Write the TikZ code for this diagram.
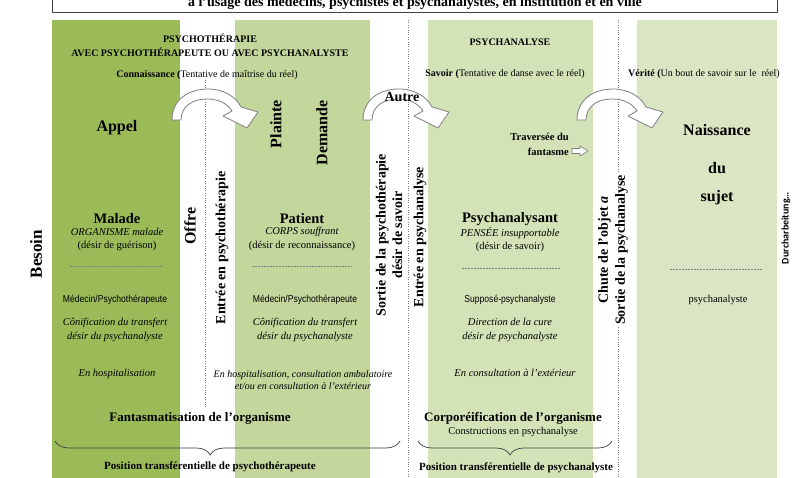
\documentclass[tikz,border=0pt]{standalone}
\usepackage{fontspec}
\setmainfont{Liberation Serif}
\setsansfont{Liberation Sans}
\newfontfamily\narrowfont[FakeStretch=0.86]{Liberation Sans}
\newfontfamily\calibfont{Carlito}
\usetikzlibrary{decorations.pathreplacing}

\definecolor{olivedark}{HTML}{9BBB59}
\definecolor{olivemid}{HTML}{C3D69B}
\definecolor{olivelight}{HTML}{D4E2B7}
\definecolor{olivepale}{HTML}{DAE5C3}
\definecolor{linegray}{HTML}{7F7F7F}

\tikzset{
  curvearrow/.pic={
    \draw[blockarrow] (0,0) .. controls (0,-20) and (16,-31) .. (36,-31)
      .. controls (52,-31) and (64,-23) .. (69,-13) -- (86,-8) -- (75,8) -- (51,-4) -- (60,-9)
      .. controls (55,-17) and (46,-21) .. (35,-21)
      .. controls (21,-21) and (9,-14) .. (9,0) -- cycle;
  }
}

\begin{document}
\begin{tikzpicture}[
    x=1pt, y=-1pt,
    every node/.style={inner sep=0pt},
    bigword/.style={font=\fontsize{16}{18}\selectfont\bfseries},
    rolename/.style={font=\fontsize{14.5}{16}\selectfont\bfseries},
    plain/.style={font=\fontsize{10.5}{13}\selectfont},
    desc/.style={font=\fontsize{10.5}{13.5}\selectfont\itshape, align=center},
    staff/.style={font=\fontsize{10}{12}\narrowfont},
    heading/.style={font=\fontsize{10}{14}\selectfont\bfseries, align=center},
    register/.style={font=\fontsize{10}{12}\selectfont},
    vtext/.style={rotate=90, font=\fontsize{14}{16.5}\selectfont\bfseries, align=center},
    summary/.style={font=\fontsize{13}{15}\selectfont\bfseries},
    position/.style={font=\fontsize{11}{12}\selectfont\bfseries},
    sepline/.style={linegray, dash pattern=on 2pt off 1pt, line width=0.5pt},
    guide/.style={linegray, dash pattern=on 0.8pt off 1.6pt, line width=0.6pt},
    blockarrow/.style={draw=linegray, fill=white, line width=0.8pt, line join=round},
    bracebelow/.style={decorate, decoration={brace, mirror, amplitude=14pt, aspect=#1}, draw=black!75, line width=0.7pt}
  ]
    \useasboundingbox (0,0) rectangle (800,478);
    \clip (0,0) rectangle (800,478);
    \fill[white] (0,0) rectangle (800,478);

    \fill[olivedark] (52,20) rectangle (180,478);
    \fill[olivemid] (235,20) rectangle (370,478);
    \fill[olivelight] (428,20) rectangle (593,478);
    \fill[olivepale] (637,20) rectangle (777,478);

    \draw[black!75, line width=1pt] (52,-10) rectangle (777,13);
    \node[font=\fontsize{14}{16}\selectfont\bfseries] (title) at (415,3) {à l’usage des médecins, psychistes et psychanalystes, en institution et en ville};

    \draw[guide] (205,80) -- (205,408);
    \draw[guide] (408,20) -- (408,478);
    \draw[guide] (618,20) -- (618,478);

    \node[heading] (psytherapie) at (210,45) {PSYCHOTHÉRAPIE\\AVEC PSYCHOTHÉRAPEUTE OU AVEC PSYCHANALYSTE};
    \node[heading] (psychanalyse) at (510,42) {PSYCHANALYSE};
    \node[register] (connaissance) at (207,75) {\textbf{Connaissance (}Tentative de maîtrise du réel)};
    \node[register] (savoir) at (505,74) {\textbf{Savoir (}Tentative de danse avec le réel)};
    \node[register] (verite) at (704,74) {\textbf{Vérité (}Un bout de savoir sur le\ \ réel)};

    \pic at (172,120) {curvearrow};
    \pic at (363,120) {curvearrow};
    \pic at (577,120) {curvearrow};
    \node[font=\fontsize{14}{16}\selectfont\bfseries] (autre) at (402,97) {Autre};

    \node[bigword] (appel) at (117,128) {Appel};
    \node[bigword, rotate=90, anchor=east] (plainte) at (276,100) {Plainte};
    \node[bigword, rotate=90, anchor=east] (demande) at (322,100) {Demande};
    \node[bigword] (naissance) at (717,130) {Naissance};
    \node[bigword] (du) at (717,168) {du};
    \node[bigword] (sujet) at (717,198) {sujet};

    \node[font=\fontsize{10.5}{15}\selectfont\bfseries, align=right, anchor=east] (traversee) at (569,144) {Traversée du\\fantasme};
    \draw[blockarrow, line width=0.6pt] (572,148.5) -- (580,148.5) -- (580,146) -- (588,151) -- (580,156) -- (580,153.5) -- (572,153.5) -- cycle;

    \node[rotate=90, font=\fontsize{17}{19}\selectfont\bfseries] (besoin) at (36,254) {Besoin};
    \node[bigword, rotate=90] (offre) at (190,226) {Offre};
    \node[vtext] (entreepth) at (222,248) {Entrée en psychothérapie};
    \node[vtext] (sortiepth) at (389,235) {Sortie de la psychothérapie\\désir de savoir};
    \node[vtext] (entreepsy) at (420,237) {Entrée en psychanalyse};
    \node[vtext, fill=white, inner xsep=1pt, inner ysep=4pt, font=\fontsize{14}{17}\selectfont\bfseries] (chute) at (613,250) {Chute de l’objet \textit{a}\\Sortie de la psychanalyse};
    \node[rotate=90, font=\fontsize{10}{12}\calibfont\bfseries] (durch) at (786,228) {Durcharbeitung…};

    \node[rolename] (malade) at (117,219) {Malade};
    \node[desc] (organisme) at (117,232) {ORGANISME malade};
    \node[plain] (guerison) at (117,246) {(désir de guérison)};
    \draw[sepline] (70,266) -- (163,266);
    \node[staff] (medecinA) at (115,300) {Médecin/Psychothérapeute};
    \node[desc] (conifA) at (115,330) {Cônification du transfert\\désir du psychanalyste};
    \node[desc] (hospA) at (117,374) {En hospitalisation};

    \node[rolename] (patient) at (302,219) {Patient};
    \node[desc] (corps) at (302,232) {CORPS souffrant};
    \node[plain] (reconnaissance) at (302,246) {(désir de reconnaissance)};
    \draw[sepline] (252,266) -- (352,266);
    \node[staff] (medecinB) at (305,300) {Médecin/Psychothérapeute};
    \node[desc] (conifB) at (305,330) {Cônification du transfert\\désir du psychanalyste};
    \node[desc, font=\fontsize{10}{12.5}\selectfont\itshape] (hospB) at (303,380) {En hospitalisation, consultation ambulatoire\\et/ou en consultation à l’extérieur};

    \node[rolename] (psychanalysant) at (510,219) {Psychanalysant};
    \node[desc] (pensee) at (510,233) {PENSÉE insupportable};
    \node[plain] (desavoir) at (510,247) {(désir de savoir)};
    \draw[sepline] (462,268) -- (561,268);
    \node[staff] (suppose) at (510,300) {Supposé-psychanalyste};
    \node[desc] (direction) at (510,330) {Direction de la cure\\désir de psychanalyste};
    \node[desc] (consultation) at (515,373) {En consultation à l’extérieur};

    \draw[sepline] (670,269) -- (762,269);
    \node[plain] (psychanalyste) at (718,300) {psychanalyste};

    \node[summary] (fantasm) at (200,418) {Fantasmatisation de l’organisme};
    \node[summary] (corpo) at (513,418) {Corporéification de l’organisme};
    \node[plain] (constructions) at (513,432) {Constructions en psychanalyse};

    \draw[bracebelow=0.45] (55,441) -- (400,441);
    \draw[bracebelow=0.474] (418,441) -- (612,441);
    \node[position] (posA) at (210,467) {Position transférentielle de psychothérapeute};
    \node[position] (posB) at (516,468) {Position transférentielle de psychanalyste};
  \end{tikzpicture}
\end{document}
